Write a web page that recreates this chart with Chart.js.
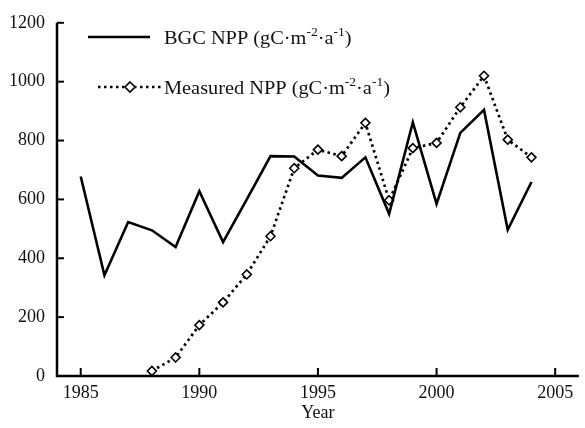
<!DOCTYPE html>
<html>
<head>
<meta charset="utf-8">
<script src="https://cdn.jsdelivr.net/npm/chart.js@4"></script>
<style>
  html, body { margin: 0; padding: 0; background: #fff; }
  #wrap { width: 585px; height: 428px; }
</style>
</head>
<body>
<div id="wrap"><canvas id="c" width="585" height="428"></canvas></div>
<script>
const years = [1985, 1986, 1987, 1988, 1989, 1990, 1991, 1992, 1993, 1994,
               1995, 1996, 1997, 1998, 1999, 2000, 2001, 2002, 2003, 2004];
const bgcNpp = [678, 342, 523, 495, 438, 628, 455, 600, 747, 746,
                681, 673, 743, 551, 862, 585, 826, 904, 497, 659];
const measuredYears = [1988, 1989, 1990, 1991, 1992, 1993, 1994, 1995, 1996,
                       1997, 1998, 1999, 2000, 2001, 2002, 2003, 2004];
const measuredNpp = [17, 63, 173, 250, 345, 475, 706, 769, 747,
                     860, 597, 774, 792, 913, 1020, 803, 743];
const xTicks = [1985, 1990, 1995, 2000, 2005];
const yTicks = [0, 200, 400, 600, 800, 1000, 1200];
const seriesNames = ['BGC NPP', 'Measured NPP'];
const unitParts = [['(gC\u00b7m', ''], ['-2', 'sup'], ['\u00b7a', ''], ['-1', 'sup'], [')', '']];

const FONT = '"Liberation Serif", "Times New Roman", serif';

// legend text with superscript units
function drawLabel(ctx, name, x, y) {
  ctx.save();
  ctx.translate(x, y);
  ctx.scale(1.13, 1);
  ctx.font = '18px ' + FONT;
  let cx = 0;
  ctx.fillText(name + ' ', cx, 0);
  cx += ctx.measureText(name + ' ').width;
  unitParts.forEach(([t, kind]) => {
    if (kind === 'sup') {
      ctx.font = '12px ' + FONT;
      ctx.fillText(t, cx, -6);
    } else {
      ctx.font = '18px ' + FONT;
      ctx.fillText(t, cx, 0);
    }
    cx += ctx.measureText(t).width;
  });
  ctx.restore();
}

// inward ticks + axis lines + legend
const decor = {
  id: 'decor',
  afterDraw(chart) {
    const ctx = chart.ctx;
    const x = chart.scales.x, y = chart.scales.y;
    const a = chart.chartArea;
    ctx.save();
    ctx.strokeStyle = '#000';
    ctx.lineWidth = 2.5;
    ctx.beginPath();
    ctx.moveTo(a.left, a.top);
    ctx.lineTo(a.left, a.bottom);
    ctx.lineTo(a.right, a.bottom);
    ctx.stroke();
    ctx.lineWidth = 2;
    xTicks.forEach(v => {
      const px = x.getPixelForValue(v);
      ctx.beginPath(); ctx.moveTo(px, a.bottom); ctx.lineTo(px, a.bottom - 8); ctx.stroke();
    });
    yTicks.forEach(v => {
      const py = y.getPixelForValue(v);
      ctx.beginPath(); ctx.moveTo(a.left, py); ctx.lineTo(a.left + 7, py); ctx.stroke();
    });

    // legend
    ctx.fillStyle = '#111';
    ctx.textBaseline = 'middle';
    ctx.lineWidth = 2.6;
    ctx.beginPath(); ctx.moveTo(88, 37); ctx.lineTo(150, 37); ctx.stroke();
    drawLabel(ctx, seriesNames[0], 164, 39);

    ctx.setLineDash([2.5, 3.5]);
    ctx.lineWidth = 2.6;
    ctx.beginPath(); ctx.moveTo(98, 87); ctx.lineTo(162, 87); ctx.stroke();
    ctx.setLineDash([]);
    ctx.fillStyle = '#fff';
    ctx.lineWidth = 1.6;
    ctx.beginPath();
    ctx.moveTo(130, 82); ctx.lineTo(135, 87); ctx.lineTo(130, 92); ctx.lineTo(125, 87); ctx.closePath();
    ctx.fill(); ctx.stroke();
    ctx.fillStyle = '#111';
    drawLabel(ctx, seriesNames[1], 164, 89);
    ctx.restore();
  }
};

new Chart(document.getElementById('c'), {
  type: 'line',
  data: {
    datasets: [
      {
        label: seriesNames[0],
        data: years.map((yr, i) => ({ x: yr, y: bgcNpp[i] })),
        borderColor: '#000',
        borderWidth: 2.6,
        pointRadius: 0,
        tension: 0,
      },
      {
        label: seriesNames[1],
        data: measuredYears.map((yr, i) => ({ x: yr, y: measuredNpp[i] })),
        borderColor: '#000',
        borderWidth: 2.7,
        borderDash: [2.5, 3.5],
        pointStyle: 'rectRot',
        pointRadius: 4.5,
        pointBackgroundColor: '#fff',
        pointBorderColor: '#000',
        pointBorderWidth: 1.6,
        tension: 0,
      },
    ],
  },
  options: {
    responsive: false,
    animation: false,
    layout: { padding: { top: 22, right: 3, left: 0, bottom: 0 } },
    plugins: { legend: { display: false }, tooltip: { enabled: false } },
    scales: {
      x: {
        type: 'linear',
        min: 1984,
        max: 2006,
        afterBuildTicks: (s) => { s.ticks = xTicks.map(v => ({ value: v })); },
        afterFit: (s) => { s.height = 52; },
        grid: { display: false, drawTicks: false },
        border: { display: false },
        ticks: { color: '#111', font: { family: FONT, size: 18 }, padding: 6, maxRotation: 0,
                 callback: (v) => String(v) },
        title: { display: true, text: 'Year', color: '#111', font: { family: FONT, size: 18 }, padding: { top: 0 } },
      },
      y: {
        min: 0,
        max: 1200,
        afterBuildTicks: (s) => { s.ticks = yTicks.map(v => ({ value: v })); },
        afterFit: (s) => { s.width = 57; },
        grid: { display: false, drawTicks: false },
        border: { display: false },
        ticks: { color: '#111', font: { family: FONT, size: 18 }, padding: 12,
                 callback: (v) => String(v) },
      },
    },
  },
  plugins: [decor],
});
</script>
</body>
</html>
